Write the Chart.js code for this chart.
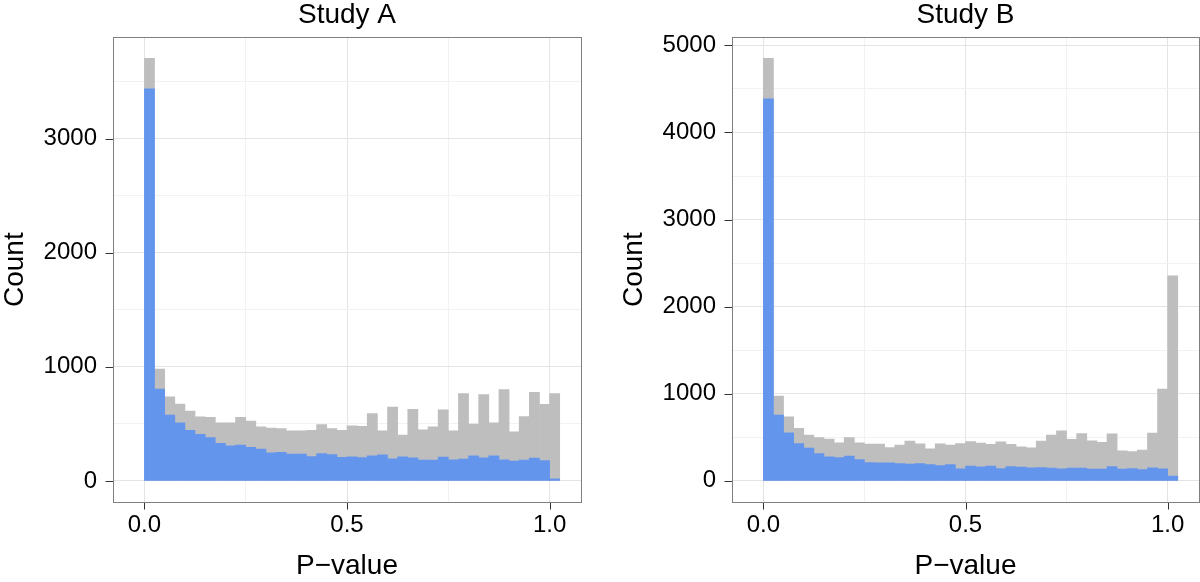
<!DOCTYPE html>
<html>
<head>
<meta charset="utf-8">
<script src="https://cdn.jsdelivr.net/npm/chart.js@4.4.0/dist/chart.umd.min.js"></script>
<style>
  body { margin: 0; background: #fff; }
  .row { display: flex; width: 1200px; height: 582px; }
  canvas { display: block; }
</style>
</head>
<body>
<div class="row">
  <canvas id="studyA" width="600" height="582"></canvas>
  <canvas id="studyB" width="600" height="582"></canvas>
</div>
<script>
/* ── Data: 41 bins of width 0.025 starting at 0 ─────────── */
const BIN = 0.025;

// Study A: all tests (grey) and the highlighted subset (blue)
const allA = [3702, 980, 737, 673, 611, 561, 556, 509, 509, 558,
              523, 474, 462, 459, 439, 439, 444, 494, 459, 444,
              482, 477, 590, 439, 646, 401, 626, 447, 474, 623,
              439, 766, 497, 757, 509, 801, 430, 564, 775, 670, 766];
const sigA = [3436, 804, 576, 509, 444, 409, 380, 330, 307, 313,
              295, 278, 246, 251, 234, 234, 213, 240, 231, 206,
              211, 205, 219, 228, 193, 211, 202, 182, 182, 208,
              184, 190, 219, 202, 219, 184, 173, 182, 199, 179, 18];

// Study B
const allB = [4851, 973, 736, 602, 525, 498, 479, 437, 498, 437,
              421, 421, 383, 410, 456, 425, 368, 425, 410, 429,
              450, 433, 418, 449, 418, 391, 380, 456, 525, 575,
              476, 544, 460, 441, 540, 345, 337, 353, 548, 1054, 2353];
const sigB = [4387, 755, 552, 429, 375, 314, 276, 268, 284, 245,
              211, 207, 207, 199, 192, 199, 188, 176, 188, 138,
              169, 161, 169, 142, 165, 157, 150, 153, 146, 138,
              146, 146, 134, 134, 165, 134, 142, 130, 150, 138, 54];

// ticks: labelled ones get a tick mark, the rest are minor grid lines only
const xTicks = [0, 0.25, 0.5, 0.75, 1];
const xLabels = ['0.0', '', '0.5', '', '1.0'];
const yTicksA = [0, 500, 1000, 1500, 2000, 2500, 3000, 3500];
const yTicksB = [0, 500, 1000, 1500, 2000, 2500, 3000, 3500, 4000, 4500, 5000];

/* ── Shared look ───────────────────────────────────────── */
const FONT = 'Liberation Sans, Arial, Helvetica, sans-serif';
const GREY = '#bebebe';
const BLUE = '#6495ed';
const MAJOR = '#e4e4e4';
const MINOR = '#f2f2f2';
const TICK = '#333333';

const xLabel = v => {
  const i = xTicks.findIndex(t => Math.abs(t - v) < 1e-9);
  return i >= 0 ? xLabels[i] : '';
};
const yLabel = v => (v % 1000 === 0 ? String(v) : '');
const tickVal = c => (c && c.tick ? c.tick.value : 0);

const points = arr => arr.map((y, i) => ({ x: (i + 0.5) * BIN, y }));

// panel frame + outward tick marks on the labelled ticks
const panelFrame = {
  id: 'panelFrame',
  afterDraw(chart) {
    const { ctx, chartArea: a, scales: { x, y } } = chart;
    const l = Math.floor(a.left) + 0.5, t = Math.floor(a.top) + 0.5;
    const r = Math.floor(a.right) + 0.5, b = Math.floor(a.bottom) + 0.5;
    ctx.save();
    ctx.lineWidth = 1;
    ctx.strokeStyle = TICK;
    ctx.beginPath();
    x.ticks.forEach(tk => {
      if (!xLabel(tk.value)) return;
      const px = Math.round(x.getPixelForValue(tk.value)) + 0.5;
      ctx.moveTo(px, b); ctx.lineTo(px, b + 7);
    });
    y.ticks.forEach(tk => {
      if (!yLabel(tk.value)) return;
      const py = Math.round(y.getPixelForValue(tk.value)) + 0.5;
      ctx.moveTo(l - 8, py); ctx.lineTo(l, py);
    });
    ctx.stroke();
    ctx.strokeStyle = '#7f7f7f';
    ctx.strokeRect(l, t, r - l, b - t);
    ctx.restore();
  }
};

function histogram(id, title, all, sig, yTicks, yMin, yMax, axisWidth, padRight) {
  const barOpts = { barPercentage: 1, categoryPercentage: 1, grouped: false, borderWidth: 0 };
  new Chart(document.getElementById(id), {
    type: 'bar',
    data: {
      datasets: [
        { label: 'subset', data: points(sig), backgroundColor: BLUE, order: 1, ...barOpts },
        { label: 'all',    data: points(all), backgroundColor: GREY, order: 2, ...barOpts }
      ]
    },
    options: {
      responsive: false,
      animation: false,
      events: [],
      layout: { padding: { left: 0, right: padRight, top: 0, bottom: 0 } },
      plugins: {
        legend: { display: false },
        tooltip: { enabled: false },
        title: {
          display: true, text: title, color: '#000', fullSize: false,
          font: { family: FONT, size: 28, weight: 'normal', lineHeight: 1.1 },
          padding: { top: 0, bottom: 6.5 }
        }
      },
      scales: {
        x: {
          type: 'linear', min: -0.0775, max: 1.0775, offset: false,
          afterBuildTicks: s => { s.ticks = xTicks.map(v => ({ value: v })); },
          afterFit: s => { s.height = 80; },
          border: { display: false },
          grid: {
            offset: false,
            color: c => xLabel(tickVal(c)) ? MAJOR : MINOR,
            tickColor: 'rgba(0,0,0,0)',
            tickLength: 7, lineWidth: 1
          },
          ticks: {
            autoSkip: false, maxRotation: 0,
            padding: 2, color: '#000', font: { family: FONT, size: 24 },
            callback: v => xLabel(v)
          },
          title: {
            display: true, text: 'P\u2212value', color: '#000',
            font: { family: FONT, size: 28, lineHeight: 1.1 },
            padding: { top: 0, bottom: 0 }
          }
        },
        y: {
          min: yMin, max: yMax,
          afterBuildTicks: s => { s.ticks = yTicks.map(v => ({ value: v })); },
          afterFit: s => { s.width = axisWidth; },
          border: { display: false },
          grid: {
            color: c => yLabel(tickVal(c)) ? MAJOR : MINOR,
            tickColor: 'rgba(0,0,0,0)',
            tickLength: 8, lineWidth: 1
          },
          ticks: {
            autoSkip: false,
            padding: 8, color: '#000', font: { family: FONT, size: 24 },
            callback: v => yLabel(v)
          },
          title: {
            display: true, text: 'Count', color: '#000',
            font: { family: FONT, size: 28, lineHeight: 1.1 },
            padding: { top: axisWidth - 113, bottom: 0 }
          }
        }
      }
    },
    plugins: [panelFrame]
  });
}

histogram('studyA', 'Study A', allA, sigA, yTicksA, -185, 3887, 113, 19);
histogram('studyB', 'Study B', allB, sigB, yTicksB, -243, 5093, 132, 1);
</script>
</body>
</html>
